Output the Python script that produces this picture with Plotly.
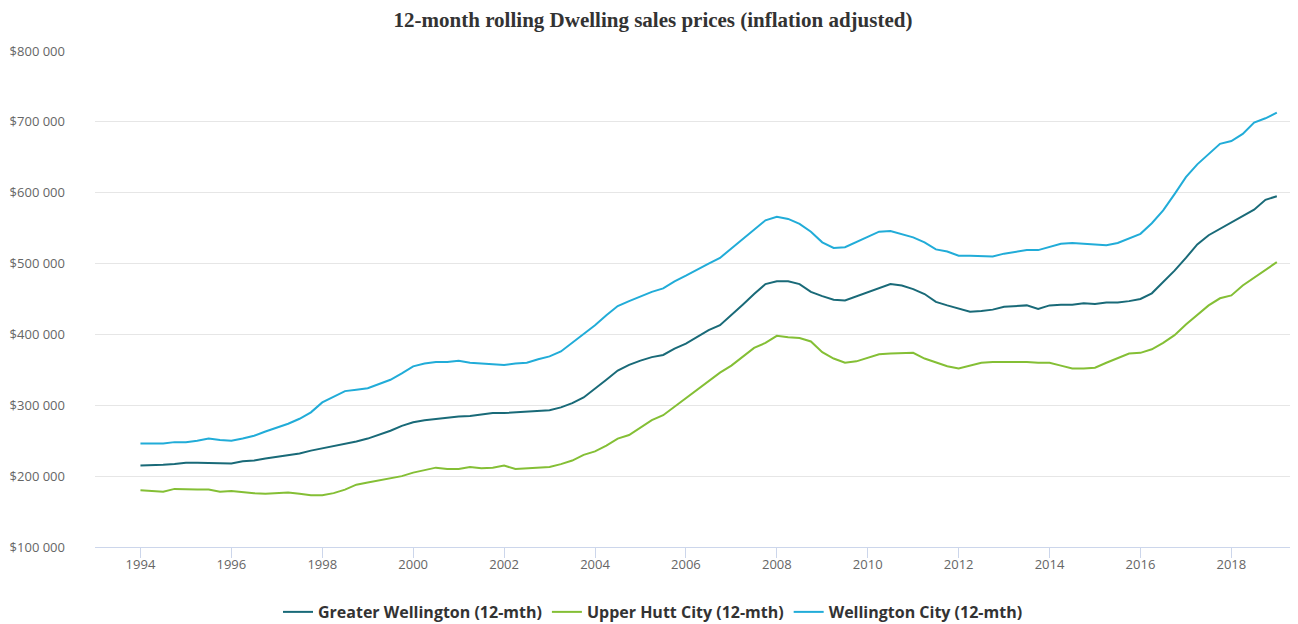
import plotly.graph_objects as go

years = [1994 + q * 0.25 for q in range(101)]

greater_wellington = [
    215, 215, 216, 217, 219, 219, 219, 218, 218, 221, 222, 225, 227, 229, 232, 236,
    239, 242, 246, 249, 253, 258, 264, 271, 276, 279, 281, 282, 284, 285, 287, 289,
    289, 290, 290, 292, 293, 297, 303, 311, 323, 336, 349, 357, 363, 368, 371, 380,
    387, 396, 406, 413, 427, 442, 457, 471, 475, 475, 471, 460, 454, 449, 448, 454,
    460, 466, 471, 469, 464, 457, 446, 441, 436, 432, 433, 435, 439, 440, 441, 436,
    441, 442, 442, 444, 443, 445, 445, 447, 450, 458, 474, 490, 508, 527, 540, 549,
    557, 566, 576, 590, 595,
]

upper_hutt = [
    180, 179, 178, 182, 181, 181, 181, 178, 179, 177, 176, 175, 176, 177, 175, 173,
    173, 176, 181, 188, 191, 194, 198, 200, 205, 208, 212, 210, 210, 213, 211, 212,
    215, 210, 211, 213, 213, 217, 222, 230, 235, 243, 253, 258, 268, 279, 286, 298,
    311, 323, 334, 346, 356, 368, 381, 388, 398, 396, 395, 390, 375, 366, 360, 362,
    367, 372, 373, 373, 374, 366, 361, 355, 352, 356, 360, 361, 361, 362, 361, 360,
    360, 356, 352, 352, 353, 360, 366, 373, 374, 379, 388, 399, 414, 427, 441, 451,
    455, 469, 480, 492, 502,
]

wellington_city = [
    246, 246, 246, 248, 248, 250, 253, 251, 250, 253, 257, 263, 268, 274, 281, 290,
    304, 312, 320, 322, 324, 330, 336, 345, 355, 359, 361, 361, 363, 360, 359, 358,
    357, 359, 360, 365, 369, 376, 388, 400, 413, 427, 440, 447, 454, 460, 465, 475,
    483, 492, 500, 508, 521, 534, 548, 561, 566, 563, 556, 545, 530, 522, 523, 530,
    538, 545, 546, 541, 537, 530, 520, 517, 511, 511, 511, 510, 514, 516, 519, 519,
    524, 528, 529, 528, 526, 526, 529, 536, 542, 557, 575, 598, 622, 640, 655, 669,
    673, 683, 699, 705, 713,
]

series = [
    ("Greater Wellington (12-mth)", greater_wellington, "#196a78"),
    ("Upper Hutt City (12-mth)", upper_hutt, "#84bf35"),
    ("Wellington City (12-mth)", wellington_city, "#21acd8"),
]

y_tick_vals = [100000, 200000, 300000, 400000, 500000, 600000, 700000, 800000]
y_tick_text = ["$100 000", "$200 000", "$300 000", "$400 000",
               "$500 000", "$600 000", "$700 000", "$800 000"]
x_tick_vals = [1994, 1996, 1998, 2000, 2002, 2004, 2006, 2008, 2010, 2012, 2014, 2016, 2018]

fig = go.Figure()
for name, vals, color in series:
    fig.add_trace(go.Scatter(
        x=years, y=[v * 1000 for v in vals], name=name, mode="lines",
        line=dict(color=color, width=2),
    ))

# page body has an 8px margin; compensate so the plot sits where the reference's does
fig.update_layout(
    width=1290, height=616,
    margin=dict(l=87, r=3, t=43, b=77, autoexpand=False),
    paper_bgcolor="white", plot_bgcolor="white",
    title=dict(
        text="12-month rolling Dwelling sales prices (inflation adjusted)",
        x=0.5, xanchor="center", y=0.9805, yanchor="middle",
        font=dict(family="Liberation Serif, serif", size=21, color="#333333", weight="bold"),
    ),
    showlegend=True,
    legend=dict(
        orientation="h", xref="container", x=0.5, xanchor="center",
        y=-0.131, yanchor="middle",
        font=dict(family="Open Sans, sans-serif", size=16, color="#333333", weight="bold"),
        itemwidth=30, traceorder="normal",
    ),
    font=dict(family="Open Sans, sans-serif"),
)

fig.update_xaxes(
    range=[1993.0, 2019.4], tickvals=x_tick_vals,
    showgrid=False, zeroline=False, automargin=False,
    showline=True, linecolor="#ccd6eb", linewidth=1,
    ticks="outside", ticklen=10, tickcolor="#ccd6eb",
    ticklabelstandoff=-5,
    tickfont=dict(family="Open Sans, sans-serif", size=13, color="#666666"),
)
fig.update_yaxes(
    range=[100000, 800000], tickvals=y_tick_vals, ticktext=y_tick_text,
    showgrid=True, gridcolor="#e6e6e6", gridwidth=1, zeroline=False,
    showline=False, ticks="", automargin=False,
    ticklabelstandoff=29,
    tickfont=dict(family="Open Sans, sans-serif", size=13, color="#666666"),
)

fig.write_html("out.html")
